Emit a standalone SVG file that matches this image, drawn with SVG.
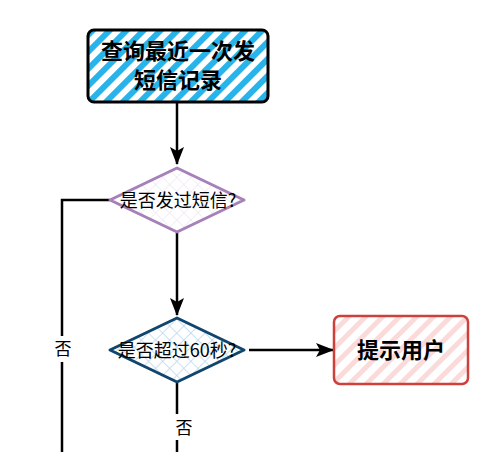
<svg xmlns="http://www.w3.org/2000/svg" width="500" height="452" viewBox="0 0 500 452">
<defs>
<pattern id="hCyan" patternUnits="userSpaceOnUse" width="12" height="12" patternTransform="rotate(45)">
<rect width="12" height="12" fill="#ffffff"/>
<rect width="6" height="12" fill="#27b4ea"/>
</pattern>
<pattern id="hPurple" patternUnits="userSpaceOnUse" width="10" height="10" patternTransform="rotate(45)">
<rect width="10" height="10" fill="#ffffff"/>
<line x1="0" y1="0" x2="0" y2="10" stroke="#e8def0" stroke-width="1"/>
<line x1="0" y1="0" x2="10" y2="0" stroke="#e8def0" stroke-width="1"/>
</pattern>
<pattern id="hBlue" patternUnits="userSpaceOnUse" width="10" height="10" patternTransform="rotate(45)">
<rect width="10" height="10" fill="#ffffff"/>
<line x1="0" y1="0" x2="0" y2="10" stroke="#b9d7ef" stroke-width="1.5"/>
<line x1="0" y1="0" x2="10" y2="0" stroke="#b9d7ef" stroke-width="1.5"/>
</pattern>
<pattern id="hRed" patternUnits="userSpaceOnUse" width="12" height="12" patternTransform="rotate(45)">
<rect width="12" height="12" fill="#ffffff"/>
<rect width="5" height="12" fill="#fbdada"/>
</pattern>
<marker id="arrBig" markerWidth="18" markerHeight="14" refX="17" refY="7" orient="auto" markerUnits="userSpaceOnUse" viewBox="0 0 18 14">
<path d="M0,0 L18,7 L0,14 L4,7 Z" fill="#000"/>
</marker>
</defs>
<style>
.t{font-family:"Noto Sans CJK SC","Liberation Sans",sans-serif;fill:#000;text-anchor:middle}
.b{font-weight:bold;font-size:22px}
.s{font-size:18px}
.l{font-size:17px}
.c{fill:none;stroke:#000;stroke-width:2.5}
</style>
<rect width="500" height="452" fill="#ffffff"/>
<g id="connectors">
<path class="c" d="M177,102 L177,164" marker-end="url(#arrBig)"/>
<path class="c" d="M177,233 L177,315" marker-end="url(#arrBig)"/>
<path class="c" d="M249,350 L333,350" marker-end="url(#arrBig)"/>
<path class="c" d="M110,200 L62,200 L62,452"/>
<path class="c" d="M177,383 L177,452"/>
<rect x="53" y="336" width="18" height="26" fill="#fff"/>
<text class="t l" x="63" y="355">否</text>
<rect x="175" y="414" width="20" height="26" fill="#fff"/>
<text class="t l" x="184" y="434">否</text>
</g>
<g id="n1">
<rect x="88" y="30" width="180" height="72" rx="6" fill="url(#hCyan)" stroke="#000" stroke-width="3"/>
<text class="t b" x="178" y="59">查询最近一次发</text>
<text class="t b" x="178" y="88">短信记录</text>
</g>
<g id="n2">
<path d="M177,168 L244,200 L177,232 L110,200 Z" fill="url(#hPurple)" stroke="#a680b8" stroke-width="3" stroke-linejoin="round"/>
<text class="t s" x="178" y="207">是否发过短信?</text>
</g>
<g id="n3">
<path d="M177,318 L244,350 L177,382 L110,350 Z" fill="url(#hBlue)" stroke="#10456d" stroke-width="3" stroke-linejoin="round"/>
<text class="t s" x="177" y="357">是否超过60秒?</text>
</g>
<g id="n4">
<rect x="334" y="316" width="134" height="68" rx="6" fill="url(#hRed)" stroke="#d0403b" stroke-width="2.5"/>
<text class="t b" x="401" y="358">提示用户</text>
</g>
</svg>
